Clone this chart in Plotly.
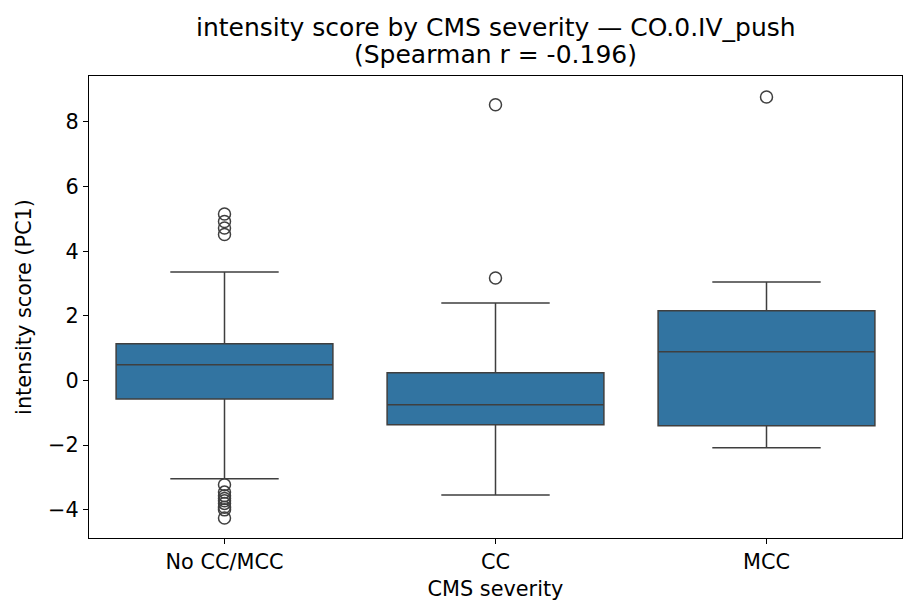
import plotly.graph_objects as go

categories = ["No CC/MCC", "CC", "MCC"]
q1 = [-0.57, -1.37, -1.40]
medians = [0.49, -0.75, 0.89]
q3 = [1.14, 0.24, 2.16]
lower_whisker = [-3.04, -3.54, -2.08]
upper_whisker = [3.36, 2.40, 3.05]

outliers = {
    "No CC/MCC": [5.15, 4.92, 4.72, 4.52, -3.22, -3.45, -3.56, -3.65, -3.72, -3.80, -3.92, -4.00, -4.25],
    "CC": [3.17, 8.53],
    "MCC": [8.77],
}

title_lines = ["intensity score by CMS severity — CO.0.IV_push", "(Spearman r = -0.196)"]

box_fill = "#3274a1"
line_col = "#3f3f3f"
font_family = "DejaVu Sans, sans-serif"

fig = go.Figure()
fig.add_trace(go.Box(
    x=categories, q1=q1, median=medians, q3=q3,
    lowerfence=lower_whisker, upperfence=upper_whisker,
    boxpoints=False, fillcolor=box_fill,
    line=dict(color=line_col, width=1.5),
    whiskerwidth=0.5, showlegend=False, hoverinfo="skip",
))

ox, oy = [], []
for c in categories:
    for v in outliers[c]:
        ox.append(c)
        oy.append(v)
fig.add_trace(go.Scatter(
    x=ox, y=oy, mode="markers", showlegend=False,
    marker=dict(symbol="circle-open", size=12, color=line_col, line=dict(color=line_col, width=1.5)),
))

for text, ypos in zip(title_lines, [1.106, 1.0476]):
    fig.add_annotation(text=text, xref="paper", yref="paper", x=0.5, y=ypos,
                       xanchor="center", yanchor="middle", showarrow=False,
                       font=dict(size=25, family=font_family, color="black"))

fig.update_layout(
    width=917, height=615,
    margin=dict(l=81, r=23, t=68, b=85, autoexpand=False),
    paper_bgcolor="white", plot_bgcolor="white",
    font=dict(family=font_family, size=20.8, color="black"),
    boxgap=0.2, boxgroupgap=0,
)
fig.update_xaxes(
    type="category", categoryorder="array", categoryarray=categories,
    range=[-0.5, 2.5], automargin=False,
    showline=True, linecolor="black", linewidth=1.2, mirror=True,
    ticks="outside", ticklen=5, tickcolor="black", showgrid=False,
    title=dict(text="CMS severity", font=dict(size=20.8), standoff=8),
    tickfont=dict(size=20.8),
)
fig.update_yaxes(
    range=[-4.87, 9.42], tickvals=[-4, -2, 0, 2, 4, 6, 8], automargin=False,
    showline=True, linecolor="black", linewidth=1.2, mirror=True,
    ticks="outside", ticklen=5, tickcolor="black", showgrid=False, zeroline=False,
    title=dict(text="intensity score (PC1)", font=dict(size=20.8), standoff=10),
    tickfont=dict(size=20.8),
)

fig.write_html("out.html")
